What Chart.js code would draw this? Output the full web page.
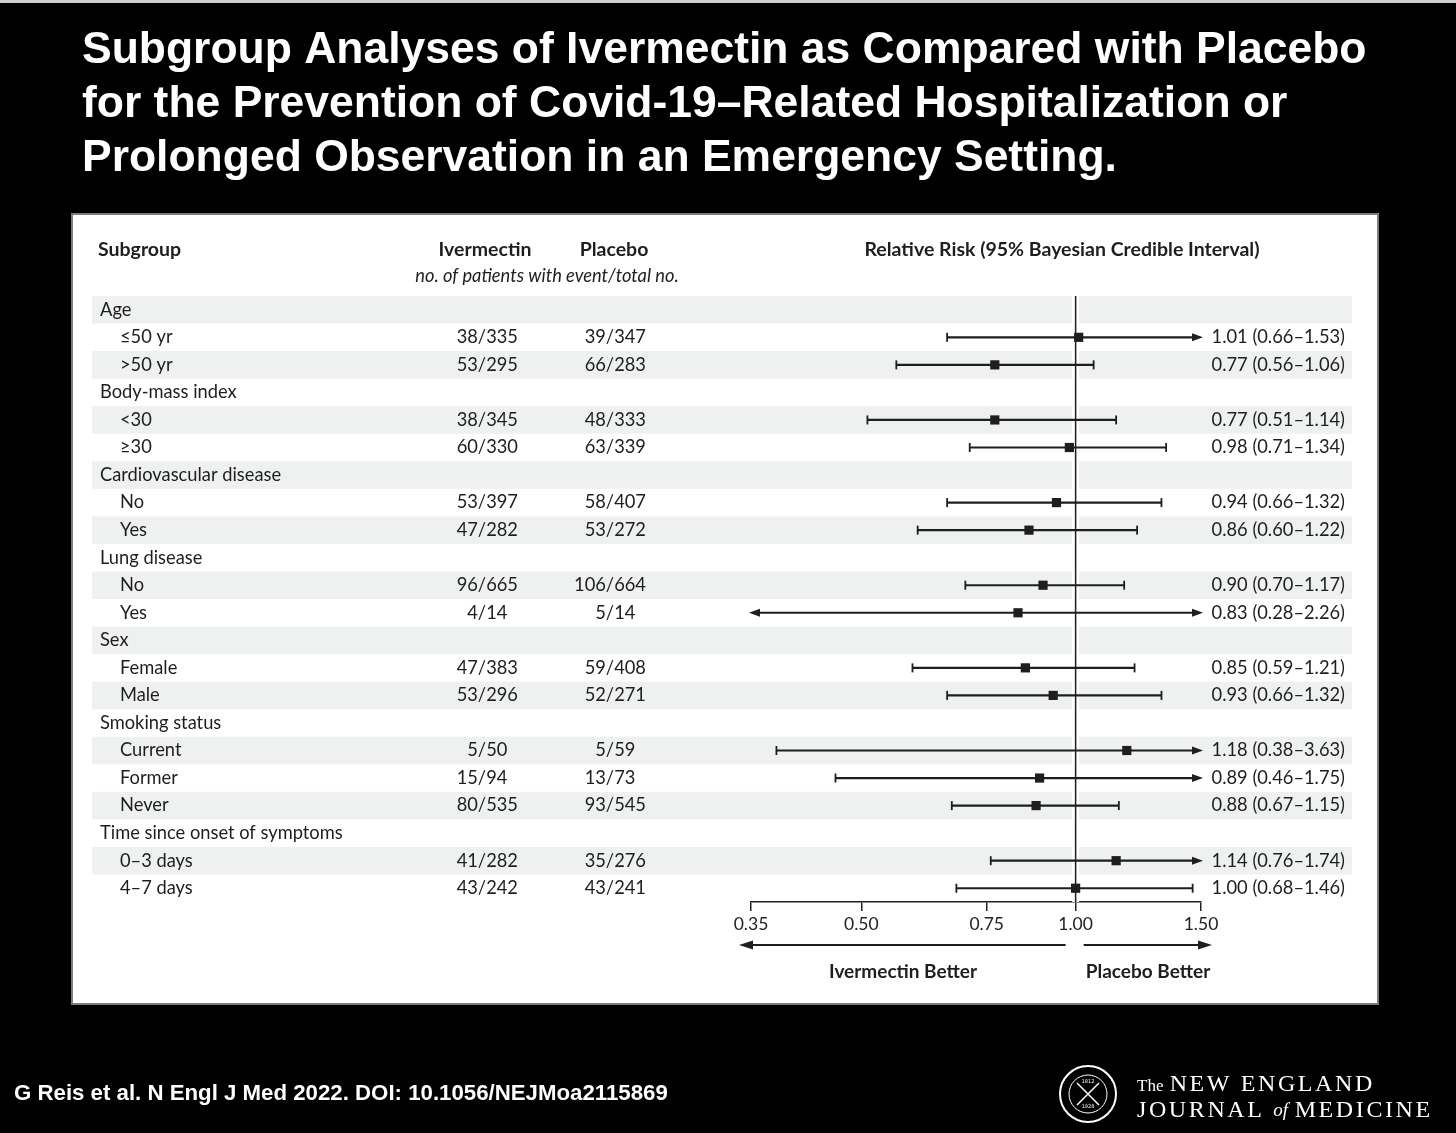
<!DOCTYPE html>
<html><head><meta charset="utf-8">
<script src="https://cdn.jsdelivr.net/npm/chart.js@4.4.1/dist/chart.umd.min.js"></script>
<style>html,body{margin:0;padding:0;background:#000;overflow:hidden}canvas{display:block}</style>
</head><body>
<canvas id="c" width="1456" height="1133" style="width:1456px;height:1133px"></canvas>
<script>
// ---------- DATA ----------
const rowLabels = ["Age","≤50 yr",">50 yr","Body-mass index","<30","≥30","Cardiovascular disease","No","Yes","Lung disease","No","Yes","Sex","Female","Male","Smoking status","Current","Former","Never","Time since onset of symptoms","0–3 days","4–7 days"];
const headerRows = [0,3,6,9,12,15,19];
const ivermectinCounts = [null,"38/335","53/295",null,"38/345","60/330",null,"53/397","47/282",null,"96/665","4/14",null,"47/383","53/296",null,"5/50","15/94","80/535",null,"41/282","43/242"];
const placeboCounts = [null,"39/347","66/283",null,"48/333","63/339",null,"58/407","53/272",null,"106/664","5/14",null,"59/408","52/271",null,"5/59","13/73","93/545",null,"35/276","43/241"];
const relativeRisk = [null,1.01,0.77,null,0.77,0.98,null,0.94,0.86,null,0.90,0.83,null,0.85,0.93,null,1.18,0.89,0.88,null,1.14,1.00];
const ciLow = [null,0.66,0.56,null,0.51,0.71,null,0.66,0.60,null,0.70,0.28,null,0.59,0.66,null,0.38,0.46,0.67,null,0.76,0.68];
const ciHigh = [null,1.53,1.06,null,1.14,1.34,null,1.32,1.22,null,1.17,2.26,null,1.21,1.32,null,3.63,1.75,1.15,null,1.74,1.46];
const xTickValues = [0.35,0.50,0.75,1.00,1.50];
const titleLines = ["Subgroup Analyses of Ivermectin as Compared with Placebo","for the Prevention of Covid-19–Related Hospitalization or","Prolonged Observation in an Emergency Setting."];
const footerText = "G Reis et al. N Engl J Med 2022. DOI: 10.1056/NEJMoa2115869";

// ---------- STYLE ----------
const INK = '#1e1e1e';
const PANEL_FONT = 'Lato, "Open Sans", sans-serif';
const X_MIN = 0.35, X_MAX = 1.5;

const pointData = relativeRisk.map((v,i)=> v==null?null:{x:v,y:i}).filter(Boolean);

function fitFont(ctx, text, weight, family, target){
  ctx.font = `${weight} 40px ${family}`;
  const w = ctx.measureText(text).width;
  return 40*target/w;
}

const pagePlugin = {
  id:'page',
  beforeDraw(chart){
    const ctx = chart.ctx, W = chart.width, H = chart.height;
    const y = chart.scales.y, x = chart.scales.x;
    ctx.save();
    ctx.fillStyle = '#000'; ctx.fillRect(0,0,W,H);
    ctx.fillStyle = '#cfcfcf'; ctx.fillRect(0,0,W,3);
    // title
    const tSize = fitFont(ctx, titleLines[0], 'bold', '"Liberation Sans", Arial, sans-serif', 1285);
    ctx.font = `bold ${tSize}px "Liberation Sans", Arial, sans-serif`;
    ctx.fillStyle = '#fff'; ctx.textBaseline = 'middle'; ctx.textAlign = 'left';
    titleLines.forEach((t,k)=> ctx.fillText(t, 82, 51 + k*54));
    // footer
    const fSize = fitFont(ctx, footerText, 'bold', '"Liberation Sans", Arial, sans-serif', 654);
    ctx.font = `bold ${fSize}px "Liberation Sans", Arial, sans-serif`;
    ctx.fillText(footerText, 14, 1094);
    // NEJM logo
    ctx.strokeStyle = '#fff'; ctx.lineWidth = 2;
    ctx.beginPath(); ctx.arc(1088,1094,28,0,Math.PI*2); ctx.stroke();
    ctx.lineWidth = 1;
    ctx.beginPath(); ctx.arc(1088,1094,19,0,Math.PI*2); ctx.stroke();
    ctx.lineWidth = 1.5;
    ctx.beginPath(); ctx.moveTo(1077,1083); ctx.lineTo(1099,1105); ctx.moveTo(1099,1083); ctx.lineTo(1077,1105); ctx.stroke();
    ctx.font = '5px "DejaVu Sans"'; ctx.textAlign='center';
    ctx.fillText('1812',1088,1082); ctx.fillText('1928',1088,1107);
    ctx.textAlign='left';
    const serif = '"Liberation Serif", "DejaVu Serif", serif';
    ctx.font = `17px ${serif}`;
    ctx.fillText('The', 1137, 1087);
    let tw = ctx.measureText('The ').width;
    ctx.font = `24px ${serif}`;
    ctx.letterSpacing = '2.6px';
    ctx.fillText('NEW ENGLAND', 1139+tw, 1085);
    ctx.fillText('JOURNAL', 1137, 1111);
    let jw = ctx.measureText('JOURNAL ').width;
    ctx.letterSpacing = '0px';
    ctx.font = `italic 19px ${serif}`;
    ctx.fillText('of', 1137+jw, 1111);
    let ow = ctx.measureText('of ').width;
    ctx.font = `24px ${serif}`;
    ctx.letterSpacing = '2.6px';
    ctx.fillText('MEDICINE', 1137+jw+ow+2, 1111);
    ctx.letterSpacing = '0px';
    // panel
    ctx.fillStyle = '#fff'; ctx.fillRect(72,214,1306,790);
    ctx.strokeStyle = '#7c7c7c'; ctx.lineWidth = 2; ctx.strokeRect(72,214,1306,790);
    // row bands
    const rowH = Math.abs(y.getPixelForValue(1)-y.getPixelForValue(0));
    ctx.fillStyle = '#eff0f0';
    rowLabels.forEach((r,i)=>{ if(i%2===0){ const cy=y.getPixelForValue(i); ctx.fillRect(92, cy-rowH/2, 1260, rowH);} });
    // headers
    ctx.fillStyle = INK; ctx.textBaseline='middle';
    ctx.font = `bold 19.5px ${PANEL_FONT}`;
    ctx.textAlign='left'; ctx.fillText('Subgroup', 98, 250);
    ctx.textAlign='center';
    ctx.fillText('Ivermectin', 485, 250);
    ctx.fillText('Placebo', 614, 250);
    ctx.fillText('Relative Risk (95% Bayesian Credible Interval)', 1062, 250);
    ctx.font = `italic 18.3px ${PANEL_FONT}`;
    ctx.fillText('no. of patients with event/total no.', 547, 276);
    // rows
    ctx.font = `18.3px ${PANEL_FONT}`;
    const drawFrac = (s, sx, cy)=>{
      const [a,b] = s.split('/');
      const sw = ctx.measureText('/').width;
      ctx.textAlign='right'; ctx.fillText(a, sx - sw/2, cy);
      ctx.textAlign='center'; ctx.fillText('/', sx, cy);
      ctx.textAlign='left'; ctx.fillText(b, sx + sw/2, cy);
    };
    rowLabels.forEach((r,i)=>{
      const cy = y.getPixelForValue(i);
      const isH = headerRows.includes(i);
      ctx.textAlign='left';
      ctx.fillText(r, isH?100:120, cy);
      if(ivermectinCounts[i]) drawFrac(ivermectinCounts[i], 482, cy);
      if(placeboCounts[i]) drawFrac(placeboCounts[i], 610, cy);
      if(relativeRisk[i]!=null){
        ctx.textAlign='right';
        ctx.fillText(`${relativeRisk[i].toFixed(2)} (${ciLow[i].toFixed(2)}–${ciHigh[i].toFixed(2)})`, 1345, cy);
      }
    });
    // direction arrows
    const x1 = x.getPixelForValue(1), xl = x.getPixelForValue(X_MIN), xr = x.getPixelForValue(X_MAX);
    const ay = 945;
    ctx.strokeStyle = INK; ctx.fillStyle = INK; ctx.lineWidth = 1.8;
    ctx.beginPath(); ctx.moveTo(x1-10, ay); ctx.lineTo(xl-4, ay); ctx.stroke();
    ctx.beginPath(); ctx.moveTo(xl-12, ay); ctx.lineTo(xl+2, ay-4.5); ctx.lineTo(xl+2, ay+4.5); ctx.closePath(); ctx.fill();
    ctx.beginPath(); ctx.moveTo(x1+8, ay); ctx.lineTo(xr+4, ay); ctx.stroke();
    ctx.beginPath(); ctx.moveTo(xr+11, ay); ctx.lineTo(xr-3, ay-4.5); ctx.lineTo(xr-3, ay+4.5); ctx.closePath(); ctx.fill();
    ctx.font = `bold 19px ${PANEL_FONT}`; ctx.textAlign='center';
    ctx.fillText('Ivermectin Better', 903, 972);
    ctx.fillText('Placebo Better', 1148, 972);
    ctx.restore();
  },
  beforeDatasetsDraw(chart){
    const ctx = chart.ctx, x = chart.scales.x, y = chart.scales.y, a = chart.chartArea;
    ctx.save();
    const x1 = x.getPixelForValue(1);
    ctx.strokeStyle = '#fff'; ctx.lineWidth = 7;
    ctx.beginPath(); ctx.moveTo(x1, a.top); ctx.lineTo(x1, a.bottom); ctx.stroke();
    ctx.strokeStyle = INK; ctx.lineWidth = 1.5;
    ctx.beginPath(); ctx.moveTo(x1, a.top); ctx.lineTo(x1, a.bottom); ctx.stroke();
    ctx.lineWidth = 2.2; ctx.fillStyle = INK;
    relativeRisk.forEach((v,i)=>{
      if(v==null) return;
      const cy = y.getPixelForValue(i);
      const loOut = ciLow[i] < X_MIN, hiOut = ciHigh[i] > X_MAX;
      const px0 = x.getPixelForValue(Math.max(ciLow[i], X_MIN));
      const px1 = x.getPixelForValue(Math.min(ciHigh[i], X_MAX));
      ctx.beginPath(); ctx.moveTo(loOut?px0+4:px0, cy); ctx.lineTo(hiOut?px1-4:px1, cy); ctx.stroke();
      if(loOut){
        ctx.beginPath(); ctx.moveTo(px0-2, cy); ctx.lineTo(px0+9, cy-4); ctx.lineTo(px0+9, cy+4); ctx.closePath(); ctx.fill();
      } else {
        ctx.lineWidth=1.8; ctx.beginPath(); ctx.moveTo(px0, cy-4.5); ctx.lineTo(px0, cy+4.5); ctx.stroke(); ctx.lineWidth=2.2;
      }
      if(hiOut){
        ctx.beginPath(); ctx.moveTo(px1+2, cy); ctx.lineTo(px1-9, cy-4); ctx.lineTo(px1-9, cy+4); ctx.closePath(); ctx.fill();
      } else {
        ctx.lineWidth=1.8; ctx.beginPath(); ctx.moveTo(px1, cy-4.5); ctx.lineTo(px1, cy+4.5); ctx.stroke(); ctx.lineWidth=2.2;
      }
    });
    ctx.restore();
  }
};

new Chart(document.getElementById('c'), {
  type:'scatter',
  data:{ datasets:[{ data: pointData, pointStyle:'rect', pointRadius:6.5, pointHoverRadius:6.5, backgroundColor:INK, borderColor:INK, borderWidth:0 }]},
  options:{
    responsive:false, animation:false, devicePixelRatio:1,
    layout:{ padding:{ left:751, right:255, top:296, bottom:191 } },
    plugins:{ legend:{display:false}, tooltip:{enabled:false} },
    clip:false,
    scales:{
      x:{ type:'logarithmic', min:X_MIN, max:X_MAX, position:'bottom',
        afterBuildTicks: s => { s.ticks = xTickValues.map(v=>({value:v})); },
        afterFit: s => { s.height = 40; },
        ticks:{ callback: v => Number(v).toFixed(2), color:'#222', font:{family:PANEL_FONT, size:17.5}, padding:3, autoSkip:false, maxRotation:0 },
        grid:{ drawOnChartArea:false, drawTicks:true, tickLength:9, color:'#222', lineWidth:1.5 },
        border:{ display:true, color:'#222', width:1.5 }
      },
      y:{ type:'linear', min:-0.5, max:21.5, reverse:true, display:false }
    }
  },
  plugins:[pagePlugin]
});
</script></body></html>
